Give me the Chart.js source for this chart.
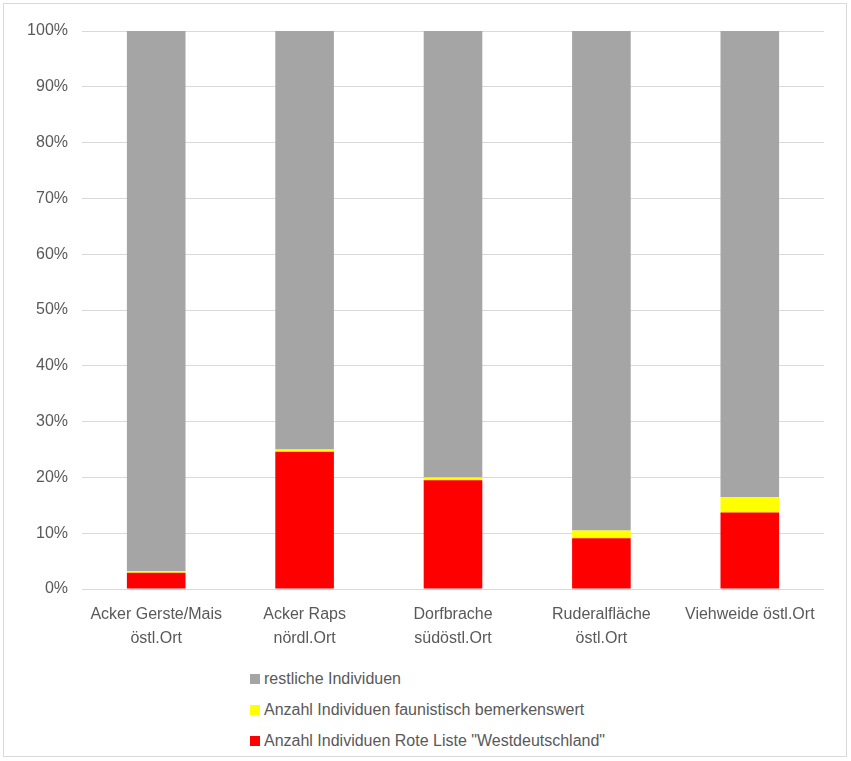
<!DOCTYPE html>
<html>
<head>
<meta charset="utf-8">
<script src="https://cdn.jsdelivr.net/npm/chart.js@4"></script>
<style>
body { margin: 0; background: #fff; }
#box { position: absolute; left: 3px; top: 3px; width: 842px; height: 752px; border: 1px solid #d9d9d9; }
#wrap { position: absolute; left: 0; top: 0; width: 842px; height: 653px; }
#legend { position: absolute; left: 246px; top: 660px; font-family: "Liberation Sans Narrow", "Arial Narrow", "Liberation Sans", sans-serif; font-size: 16px; color: #595959; }
#legend div { height: 31px; line-height: 30px; }
#legend span { display: inline-block; width: 10px; height: 10px; margin-right: 4px; }
</style>
</head>
<body>
<div id="box">
	<div id="wrap"><canvas id="chart1"></canvas></div>
	<div id="legend"></div>
</div>
<script>
var labels = [["Acker Gerste/Mais", "östl.Ort"], ["Acker Raps", "nördl.Ort"], ["Dorfbrache", "südöstl.Ort"], ["Ruderalfläche", "östl.Ort"], "Viehweide östl.Ort"];
var roteListe = [2.9, 24.6, 19.5, 9.1, 13.7];
var faunistisch = [0.3, 0.4, 0.5, 1.4, 2.8];
var restliche = [96.8, 75.0, 80.0, 89.5, 83.5];
var yTicks = [0, 10, 20, 30, 40, 50, 60, 70, 80, 90, 100];

var fontName = '"Liberation Sans Narrow", "Arial Narrow", "Liberation Sans", sans-serif';

var ctx = document.getElementById("chart1").getContext("2d");
var chartdata = {
	type: "bar",
	data: {
		labels: labels,
		datasets: [
			{ label: 'Anzahl Individuen Rote Liste "Westdeutschland"', data: roteListe, backgroundColor: "#ff0000" },
			{ label: "Anzahl Individuen faunistisch bemerkenswert", data: faunistisch, backgroundColor: "#ffff00" },
			{ label: "restliche Individuen", data: restliche, backgroundColor: "#a5a5a5" }
		]
	},
	options: {
		responsive: true,
		maintainAspectRatio: false,
		animation: false,
		datasets: { bar: { categoryPercentage: 1, barPercentage: 0.395 } },
		layout: { padding: { top: 27, right: 22, bottom: 0, left: 0 } },
		plugins: { legend: { display: false }, tooltip: { enabled: false } },
		scales: {
			x: {
				stacked: true,
				grid: { display: false },
				border: { display: false },
				ticks: { color: "#595959", font: { family: fontName, size: 16, lineHeight: 1.5 }, padding: 6, maxRotation: 0 }
			},
			y: {
				stacked: true,
				min: 0,
				max: 100,
				afterFit: function (s) { s.width = 78; },
				afterBuildTicks: function (s) { s.ticks = yTicks.map(function (v) { return { value: v }; }); },
				grid: { color: "#d9d9d9", lineWidth: 1, drawTicks: false },
				border: { display: false },
				ticks: { color: "#595959", font: { family: fontName, size: 16 }, padding: 14, callback: function (v) { return v + "%"; } }
			}
		}
	}
};
new Chart(ctx, chartdata);

var legend = document.getElementById("legend");
chartdata.data.datasets.slice().reverse().forEach(function (ds) {
	var row = document.createElement("div");
	var sw = document.createElement("span");
	sw.style.background = ds.backgroundColor;
	row.appendChild(sw);
	row.appendChild(document.createTextNode(ds.label));
	legend.appendChild(row);
});
</script>
</body>
</html>
